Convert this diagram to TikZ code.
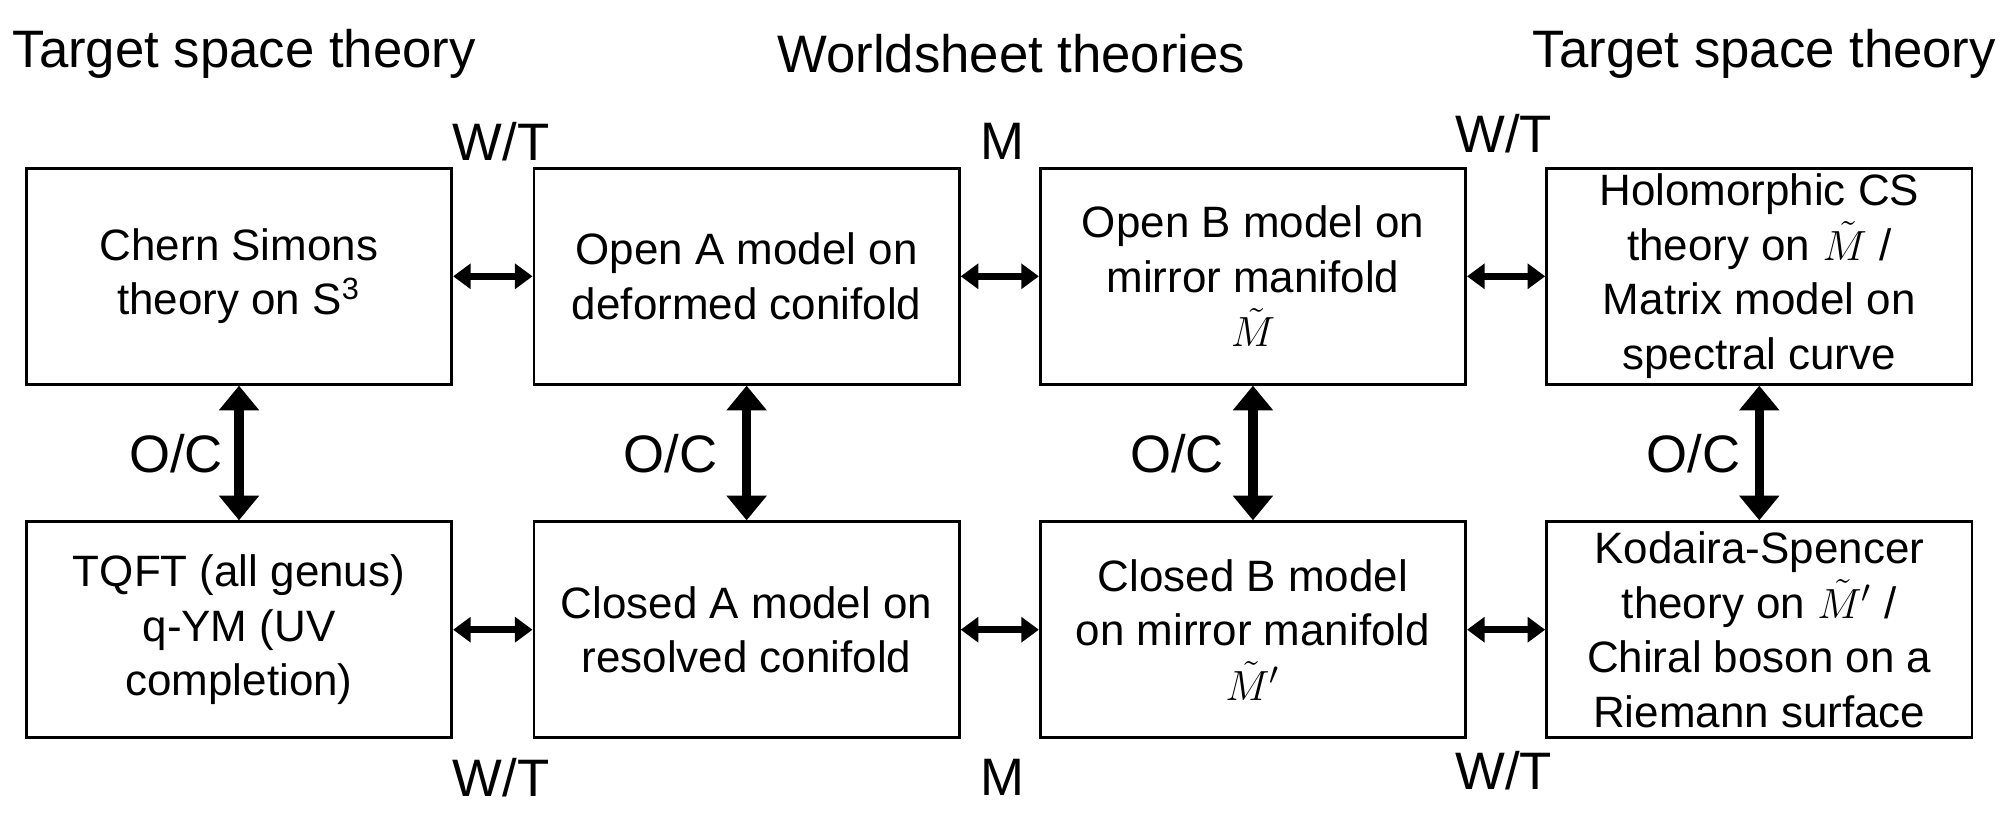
\documentclass[tikz,border=0pt]{standalone}
\usepackage{fontspec}
\setmainfont{Liberation Sans}
\usetikzlibrary{arrows.meta}
\begin{document}
\begin{tikzpicture}[
        x=0.01285cm, y=-0.01285cm,
        box/.style={draw, thick, minimum width=331*0.01285cm, minimum height=168*0.01285cm, align=center, font=\fontsize{12.5}{15.5}\selectfont, inner sep=1pt},
        lbl/.style={font=\fontsize{15}{18}\selectfont},
        head/.style={font=\fontsize{15}{18}\selectfont},
        link/.style={line width=2.6pt, {Triangle[width=11pt,length=7pt]}-{Triangle[width=11pt,length=7pt]}},
        hlink/.style={line width=2pt, {Triangle[width=7pt,length=5pt]}-{Triangle[width=7pt,length=5pt]}}
        ]
        \useasboundingbox (0,0) rectangle (1568,644);

        % Titles
        \node[head] (h1) at (190,42) {Target space theory};
        \node[head] (h2) at (787,42) {Worldsheet theories};
        \node[head] (h3) at (1373,42) {Target space theory};

        % Boxes
        \node[box] (cs) at (186,215) {Chern Simons\\theory on S\textsuperscript{3}};
        \node[box] (oa) at (581,215) {Open A model on\\deformed conifold};
        \node[box] (ob) at (975,215) {Open B model on\\mirror manifold\\$\tilde M$};
        \node[box] (hcs) at (1369,215) {Holomorphic CS\\theory on $\tilde M$ /\\Matrix model on\\spectral curve};
        \node[box] (tq) at (186,490) {TQFT (all genus)\\q-YM (UV\\completion)};
        \node[box] (ca) at (581,490) {Closed A model on\\resolved conifold};
        \node[box] (cb) at (975,490) {Closed B model\\on mirror manifold\\$\tilde M'$};
        \node[box] (ks) at (1369,490) {Kodaira-Spencer\\theory on $\tilde M'$ /\\Chiral boson on a\\Riemann surface};

        % Arrows
        \foreach \a/\b in {cs/oa, oa/ob, ob/hcs, tq/ca, ca/cb, cb/ks}
            \draw[hlink] (\a) -- (\b);
        \foreach \a/\b in {cs/tq, oa/ca, ob/cb, hcs/ks}
            \draw[link] (\a) -- (\b);

        % Labels
        \node[lbl] (wt1) at (390,110) {W/T};
        \node[lbl] (m1) at (780,110) {M};
        \node[lbl] (wt2) at (1170,104) {W/T};
        \node[lbl] (wt3) at (390,605) {W/T};
        \node[lbl] (m2) at (780,605) {M};
        \node[lbl] (wt4) at (1170,600) {W/T};
        \foreach \x/\n in {137/a, 522/b, 916/c, 1318/d}
            \node[lbl] (oc\n) at (\x,353) {O/C};
\end{tikzpicture}
\end{document}
